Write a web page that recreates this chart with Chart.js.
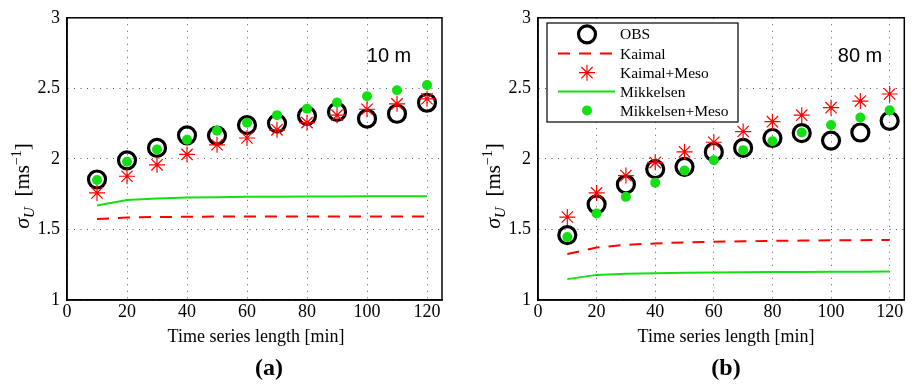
<!DOCTYPE html>
<html>
<head>
<meta charset="utf-8">
<script src="https://cdn.jsdelivr.net/npm/chart.js@4/dist/chart.umd.min.js"></script>
<style>
html, body { margin: 0; padding: 0; background: #fff; }
#wrap { position: relative; width: 916px; height: 388px; }
.panel { position: absolute; top: 0; width: 458px; height: 388px; }
</style>
</head>
<body>
<div id="wrap">
  <div class="panel" style="left:0"><canvas id="c10" width="458" height="388"></canvas></div>
  <div class="panel" style="left:458px"><canvas id="c80" width="458" height="388"></canvas></div>
</div>
<script>
// x values (time series length, min) and tick labels
const minutes = [10, 20, 30, 40, 50, 60, 70, 80, 90, 100, 110, 120];
const xTicks = [0, 20, 40, 60, 80, 100, 120];
const yTicks = [1, 1.5, 2, 2.5, 3];
const legendLabels = ['OBS', 'Kaimal', 'Kaimal+Meso', 'Mikkelsen', 'Mikkelsen+Meso'];

// (a) 10 m
const obs10 = [1.854, 1.99, 2.078, 2.167, 2.165, 2.24, 2.252, 2.305, 2.333, 2.285, 2.32, 2.398];
const kaimal10 = [1.574, 1.585, 1.588, 1.590, 1.591, 1.591, 1.592, 1.592, 1.592, 1.592, 1.592, 1.592];
const kaimalMeso10 = [1.759, 1.877, 1.958, 2.032, 2.10, 2.148, 2.206, 2.257, 2.31, 2.352, 2.39, 2.426];
const mikkelsen10 = [1.669, 1.708, 1.72, 1.726, 1.729, 1.731, 1.732, 1.733, 1.734, 1.735, 1.735, 1.736];
const mikkelsenMeso10 = [1.85, 1.98, 2.067, 2.136, 2.199, 2.257, 2.31, 2.356, 2.40, 2.444, 2.486, 2.523];

// (b) 80 m
const obs80 = [1.46, 1.678, 1.819, 1.928, 1.944, 2.049, 2.078, 2.148, 2.183, 2.13, 2.187, 2.27];
const kaimal80 = [1.326, 1.372, 1.391, 1.401, 1.408, 1.413, 1.416, 1.419, 1.421, 1.423, 1.424, 1.426];
const kaimalMeso80 = [1.588, 1.759, 1.882, 1.974, 2.05, 2.118, 2.194, 2.264, 2.31, 2.363, 2.41, 2.46];
const mikkelsen80 = [1.148, 1.178, 1.186, 1.190, 1.193, 1.195, 1.197, 1.198, 1.199, 1.200, 1.201, 1.202];
const mikkelsenMeso80 = [1.447, 1.613, 1.731, 1.831, 1.917, 1.99, 2.062, 2.125, 2.187, 2.24, 2.294, 2.344];

const RED = '#ff0000';
const GREEN = '#12e012';
const SERIF = '"Liberation Serif", "Times New Roman", serif';

function pts(arr) {
    return minutes.map((m, i) => ({ x: m, y: arr[i] }));
}

// draws a legend marker by hand (same look as the datasets)
function drawMarker(ctx, kind, x, y) {
    ctx.save();
    if (kind === 'circle') {
        ctx.strokeStyle = '#000';
        ctx.lineWidth = 3.2;
        ctx.beginPath();
        ctx.arc(x, y, 8.5, 0, Math.PI * 2);
        ctx.stroke();
    } else if (kind === 'star') {
        ctx.strokeStyle = RED;
        ctx.lineWidth = 1.2;
        const r = 8, d = r * Math.SQRT1_2;
        ctx.beginPath();
        ctx.moveTo(x - r, y); ctx.lineTo(x + r, y);
        ctx.moveTo(x, y - r); ctx.lineTo(x, y + r);
        ctx.moveTo(x - d, y - d); ctx.lineTo(x + d, y + d);
        ctx.moveTo(x - d, y + d); ctx.lineTo(x + d, y - d);
        ctx.stroke();
    } else if (kind === 'dot') {
        ctx.fillStyle = GREEN;
        ctx.beginPath();
        ctx.arc(x, y, 5, 0, Math.PI * 2);
        ctx.fill();
    }
    ctx.restore();
}

const deco = {
    id: 'deco',
    afterDraw(chart, args, o) {
        const ctx = chart.ctx;
        const a = chart.chartArea;
        ctx.save();

        // axes box
        ctx.strokeStyle = '#000';
        ctx.lineWidth = 1.5;
        ctx.strokeRect(a.left, a.top, a.right - a.left, a.bottom - a.top);

        // height label
        ctx.fillStyle = '#000';
        ctx.font = '20px "Liberation Sans", Arial, sans-serif';
        ctx.textAlign = 'center';
        ctx.textBaseline = 'middle';
        ctx.fillText(o.height, a.left + 322, 56);

        // x title and panel tag
        ctx.font = '18px ' + SERIF;
        ctx.fillText('Time series length [min]', o.titleX, 337);
        ctx.font = 'bold 24px ' + SERIF;
        ctx.fillText(o.tag, o.tagX, 369);

        // y title: sigma_U [ms^-1], rotated
        const parts = [
            { t: 'σ', f: 'italic 22px ' + SERIF, dy: 0 },
            { t: 'U', f: 'italic 15px ' + SERIF, dy: 5 },
            { t: '  [ms', f: '21px ' + SERIF, dy: 0 },
            { t: '−1', f: '14px ' + SERIF, dy: -8 },
            { t: ']', f: '21px ' + SERIF, dy: 0 }
        ];
        let total = 0;
        parts.forEach(p => { ctx.font = p.f; p.w = ctx.measureText(p.t).width; total += p.w; });
        ctx.translate(a.left - 45.5, 186);
        ctx.rotate(-Math.PI / 2);
        ctx.textAlign = 'left';
        ctx.textBaseline = 'alphabetic';
        let px = -total / 2;
        parts.forEach(p => {
            ctx.font = p.f;
            ctx.fillText(p.t, px, 7 + p.dy);
            px += p.w;
        });
        ctx.restore();

        // legend box (panel b only)
        if (o.legend) {
            const lx = a.left + 9, ly = 23, lw = 191, lh = 99;
            ctx.save();
            ctx.fillStyle = '#fff';
            ctx.fillRect(lx, ly, lw, lh);
            ctx.strokeStyle = '#000';
            ctx.lineWidth = 1.2;
            ctx.strokeRect(lx, ly, lw, lh);
            const rows = [34.3, 53.5, 72.7, 91.5, 110.5];
            const sx0 = lx + 11, sx1 = lx + 68, mx = lx + 40;
            drawMarker(ctx, 'circle', mx, rows[0]);
            ctx.strokeStyle = RED; ctx.lineWidth = 2; ctx.setLineDash([12, 9]);
            ctx.beginPath(); ctx.moveTo(sx0, rows[1]); ctx.lineTo(sx1, rows[1]); ctx.stroke();
            ctx.setLineDash([]);
            drawMarker(ctx, 'star', mx, rows[2]);
            ctx.strokeStyle = GREEN; ctx.lineWidth = 2;
            ctx.beginPath(); ctx.moveTo(sx0, rows[3]); ctx.lineTo(sx1, rows[3]); ctx.stroke();
            drawMarker(ctx, 'dot', mx, rows[4]);
            ctx.fillStyle = '#000';
            ctx.font = '15.5px ' + SERIF;
            ctx.textAlign = 'left';
            ctx.textBaseline = 'middle';
            legendLabels.forEach((t, i) => ctx.fillText(t, lx + 73, rows[i] + 1));
            ctx.restore();
        }
    }
};

function makeChart(id, s, o) {
    const tickFont = { family: SERIF, size: 18 };
    return new Chart(document.getElementById(id), {
        type: 'line',
        data: {
            datasets: [
                { label: legendLabels[0], data: pts(s.obs), showLine: false, pointStyle: 'circle',
                  pointRadius: 8.5, pointBorderWidth: 3.2, pointBorderColor: '#000',
                  pointBackgroundColor: 'rgba(0,0,0,0)', order: 5 },
                { label: legendLabels[1], data: pts(s.kaimal), borderColor: RED, borderWidth: 2,
                  borderDash: [12, 9], pointRadius: 0, order: 4 },
                { label: legendLabels[2], data: pts(s.kaimalMeso), showLine: false, pointStyle: 'star',
                  pointRadius: 8, pointBorderWidth: 1.2, pointBorderColor: RED, order: 3 },
                { label: legendLabels[3], data: pts(s.mikkelsen), borderColor: GREEN, borderWidth: 2,
                  pointRadius: 0, order: 2 },
                { label: legendLabels[4], data: pts(s.mikkelsenMeso), showLine: false, pointStyle: 'circle',
                  pointRadius: 5, pointBorderWidth: 0, pointBackgroundColor: GREEN, order: 1 }
            ]
        },
        options: {
            responsive: false,
            animation: false,
            devicePixelRatio: 1,
            layout: { padding: { top: 13, right: o.padRight, left: 0, bottom: 0 } },
            plugins: {
                legend: { display: false },
                tooltip: { enabled: false },
                deco: o
            },
            scales: {
                x: {
                    type: 'linear', min: 0, max: 125,
                    afterBuildTicks: sc => { sc.ticks = xTicks.map(v => ({ value: v })); },
                    afterFit: sc => { sc.height = 88; },
                    grid: { color: '#555', lineWidth: 1, drawTicks: false },
                    border: { color: '#000', width: 1.5, dash: [1, 5.5] },
                    ticks: { color: '#000', font: tickFont, padding: 1, maxRotation: 0,
                             callback: v => String(v) }
                },
                y: {
                    type: 'linear', min: 1, max: 3,
                    afterBuildTicks: sc => { sc.ticks = yTicks.map(v => ({ value: v })); },
                    afterFit: sc => { sc.width = o.yWidth; },
                    grid: { color: '#555', lineWidth: 1, drawTicks: false },
                    border: { color: '#000', width: 1.5, dash: [1, 5.5] },
                    ticks: { color: '#000', font: tickFont, padding: 7,
                             callback: v => String(v) }
                }
            }
        },
        plugins: [deco]
    });
}

makeChart('c10',
    { obs: obs10, kaimal: kaimal10, kaimalMeso: kaimalMeso10, mikkelsen: mikkelsen10, mikkelsenMeso: mikkelsenMeso10 },
    { yWidth: 67, padRight: 16, height: '10 m', tag: '(a)', titleX: 256, tagX: 269, legend: false });

makeChart('c80',
    { obs: obs80, kaimal: kaimal80, kaimalMeso: kaimalMeso80, mikkelsen: mikkelsen80, mikkelsenMeso: mikkelsenMeso80 },
    { yWidth: 80, padRight: 3, height: '80 m', tag: '(b)', titleX: 268, tagX: 268, legend: true });
</script>
</body>
</html>
